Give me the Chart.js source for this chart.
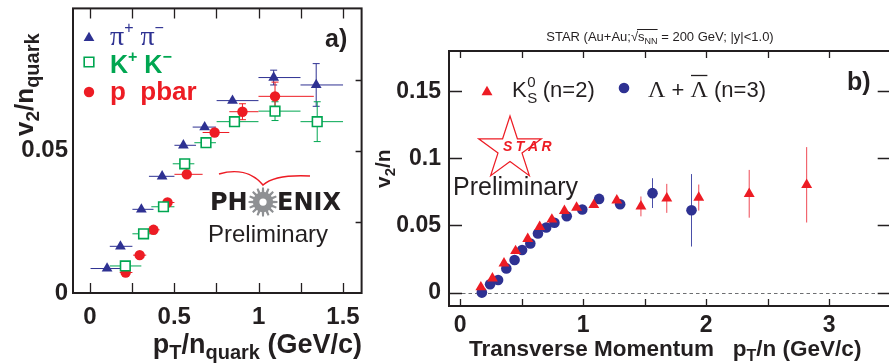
<!DOCTYPE html>
<html>
<head>
<meta charset="utf-8">
<script src="https://cdn.jsdelivr.net/npm/chart.js@4.4.1/dist/chart.umd.min.js"></script>
<style>
  html, body { margin: 0; padding: 0; background: #fff; overflow: hidden; width: 889px; height: 364px; }
  #wa { position: absolute; left: 0; top: 0; width: 370px; height: 364px; }
  #wb { position: absolute; left: 370px; top: 0; width: 527px; height: 364px; }
  canvas { display: block; }
</style>
</head>
<body>
<div id="wa"><canvas id="ca" width="370" height="364" style="width:370px;height:364px"></canvas></div>
<div id="wb"><canvas id="cb" width="527" height="364" style="width:527px;height:364px"></canvas></div>
<script>
// ---------- (a) PHENIX: v2 / n_quark vs pT / n_quark ----------
const PION_X    = [0.102, 0.181, 0.305, 0.428, 0.554, 0.680, 0.845, 1.089, 1.341];
const PION_Y    = [0.0086, 0.0164, 0.0294, 0.0410, 0.0519, 0.0583, 0.0676, 0.0757, 0.0731];
const PION_XLO  = [0.004, 0.118, 0.252, 0.350, 0.501, 0.609, 0.751, 0.999, 1.248];
const PION_XHI  = [0.200, 0.252, 0.377, 0.501, 0.629, 0.747, 0.999, 1.248, 1.500];
const PION_YERR = [0, 0, 0, 0, 0, 0, 0.0008, 0.0026, 0.0075];

const KAON_X    = [0.210, 0.318, 0.436, 0.562, 0.688, 0.857, 1.097, 1.347];
const KAON_Y    = [0.0095, 0.0208, 0.0303, 0.0454, 0.0528, 0.0602, 0.0639, 0.0602];
const KAON_XLO  = [0.118, 0.252, 0.364, 0.491, 0.619, 0.751, 0.999, 1.248];
const KAON_XHI  = [0.305, 0.393, 0.501, 0.619, 0.747, 0.999, 1.248, 1.500];
const KAON_YERR = [0, 0, 0, 0, 0, 0.0008, 0.0033, 0.0070];

const PROT_X    = [0.212, 0.295, 0.377, 0.460, 0.574, 0.739, 0.904, 1.097];
const PROT_Y    = [0.0072, 0.0133, 0.0222, 0.0318, 0.0417, 0.0564, 0.0637, 0.0691];
const PROT_XLO  = [0.177, 0.256, 0.344, 0.423, 0.501, 0.668, 0.826, 0.999];
const PROT_XHI  = [0.252, 0.334, 0.413, 0.501, 0.668, 0.826, 0.999, 1.327];
const PROT_YERR = [0, 0, 0, 0, 0, 0.0010, 0.0028, 0.0050];

const A_X_TICKS  = [0, 0.5, 1, 1.5];
const A_X_LABELS = ['0', '0.5', '1', '1.5'];
const A_X_MARKS  = [0, 0.25, 0.5, 0.75, 1, 1.25, 1.5];
const A_Y_TICKS  = [0, 0.05];
const A_Y_LABELS = ['0', '0.05'];
const A_Y_MARKS  = [0.025, 0.05, 0.075];

// ---------- (b) STAR: v2 / n vs pT / n ----------
const K0S_X    = [0.169, 0.263, 0.357, 0.451, 0.550, 0.647, 0.746, 0.848, 0.947, 1.087, 1.274, 1.470, 1.680, 1.940, 2.350, 2.817];
const K0S_Y    = [0.0040, 0.0106, 0.0218, 0.0310, 0.0400, 0.0490, 0.0545, 0.0609, 0.0634, 0.0653, 0.0688, 0.0642, 0.0702, 0.0708, 0.0736, 0.0803];
const K0S_YERR = [0.001, 0.001, 0.001, 0.001, 0.001, 0.001, 0.001, 0.0012, 0.0015, 0.002, 0.003, 0.0074, 0.0108, 0.0097, 0.0178, 0.0281];

const LAM_X    = [0.177, 0.244, 0.309, 0.376, 0.443, 0.504, 0.571, 0.633, 0.700, 0.767, 0.867, 0.993, 1.130, 1.301, 1.564, 1.881];
const LAM_Y    = [0.0000, 0.0062, 0.0094, 0.0180, 0.0243, 0.0317, 0.0366, 0.0440, 0.0485, 0.0520, 0.0569, 0.0619, 0.0698, 0.0658, 0.0741, 0.0613];
const LAM_YERR = [0.001, 0.001, 0.001, 0.001, 0.001, 0.001, 0.001, 0.001, 0.001, 0.0012, 0.0015, 0.002, 0.0025, 0.003, 0.0111, 0.0270];

const B_X_TICKS  = [0, 1, 2, 3];
const B_X_LABELS = ['0', '1', '2', '3'];
const B_X_MARKS  = [0, 0.5, 1, 1.5, 2, 2.5, 3];
const B_Y_TICKS  = [0, 0.05, 0.1, 0.15];
const B_Y_LABELS = ['0', '0.05', '0.1', '0.15'];
const B_Y_MARKS  = [0, 0.05, 0.1, 0.15];

// ---------- styling ----------
const INK = '#231f20';
const BLUE = '#2e3192', GREEN = '#00a651', RED = '#ed1c24';
const SANS = '"Liberation Sans", Arial, sans-serif';
const SERIF = '"Liberation Serif", "Times New Roman", serif';
const DJV = '"DejaVu Sans", sans-serif';

const pts = (xs, ys) => xs.map((x, i) => ({ x, y: ys[i] }));

// draws a run of text pieces [text, font, dy, color]; returns the x start of each piece and the end
function rich(ctx, x, y, parts, align) {
  let w = 0;
  parts.forEach(p => { ctx.font = p[1]; w += ctx.measureText(p[0]).width; });
  let cx = align === 'right' ? x - w : align === 'center' ? x - w / 2 : x;
  const pos = [];
  ctx.textAlign = 'left';
  ctx.textBaseline = 'alphabetic';
  parts.forEach(p => {
    ctx.font = p[1];
    ctx.fillStyle = p[3] || INK;
    ctx.fillText(p[0], cx, y + (p[2] || 0));
    pos.push(cx);
    cx += ctx.measureText(p[0]).width;
  });
  pos.push(cx);
  return pos;
}

function marker(ctx, style, x, y, r, fill, stroke, lw) {
  ctx.save();
  ctx.beginPath();
  if (style === 'triangle') {
    for (let k = 0; k < 3; k++) {
      const a = k * 2 * Math.PI / 3;
      const px = x + Math.sin(a) * r, py = y - Math.cos(a) * r;
      k ? ctx.lineTo(px, py) : ctx.moveTo(px, py);
    }
    ctx.closePath();
  } else if (style === 'rect') {
    const s = Math.SQRT1_2 * r;
    ctx.rect(x - s, y - s, 2 * s, 2 * s);
  } else {
    ctx.arc(x, y, r, 0, 2 * Math.PI);
  }
  ctx.fillStyle = fill; ctx.fill();
  if (stroke) { ctx.strokeStyle = stroke; ctx.lineWidth = lw; ctx.stroke(); }
  ctx.restore();
}

// error bars from the dataset's own arrays, placed through the chart scales
const errorBars = {
  id: 'errorBars',
  beforeDatasetsDraw(chart) {
    const { ctx, scales: { x, y } } = chart;
    chart.data.datasets.forEach(ds => {
      ctx.save();
      ctx.strokeStyle = ds.errColor;
      ctx.lineWidth = ds.errWidth || 1;
      ctx.beginPath();
      ds.data.forEach((p, j) => {
        const px = x.getPixelForValue(p.x), py = y.getPixelForValue(p.y);
        if (ds.xLo) {
          ctx.moveTo(x.getPixelForValue(ds.xLo[j]), py);
          ctx.lineTo(x.getPixelForValue(ds.xHi[j]), py);
        }
        const e = ds.yErr ? ds.yErr[j] : 0;
        if (e > 0) {
          const t = y.getPixelForValue(p.y + e), b = y.getPixelForValue(p.y - e);
          ctx.moveTo(px, t); ctx.lineTo(px, b);
          if (ds.cap && (b - t) > 8) {
            ctx.moveTo(px - ds.cap, t); ctx.lineTo(px + ds.cap, t);
            ctx.moveTo(px - ds.cap, b); ctx.lineTo(px + ds.cap, b);
          }
        }
      });
      ctx.stroke();
      ctx.restore();
    });
  }
};

// box frame with inward ticks
function framePlugin(cfg) {
  return {
    id: 'frame',
    beforeDatasetsDraw(chart) {
      if (!cfg.zeroLine) return;
      const { ctx, chartArea: a, scales: { y } } = chart;
      const py = Math.round(y.getPixelForValue(0)) + 0.5;
      ctx.save();
      ctx.strokeStyle = '#6d6e71';
      ctx.lineWidth = 1;
      ctx.setLineDash([3.5, 3]);
      ctx.beginPath(); ctx.moveTo(a.left, py); ctx.lineTo(a.right, py); ctx.stroke();
      ctx.restore();
    },
    afterDraw(chart) {
      const { ctx, chartArea: a, scales: { x, y } } = chart;
      ctx.save();
      ctx.strokeStyle = INK;
      ctx.lineWidth = 1.3;
      ctx.beginPath();
      cfg.xMarks.forEach(v => {
        const px = Math.round(x.getPixelForValue(v)) + 0.5;
        ctx.moveTo(px, a.bottom); ctx.lineTo(px, a.bottom - cfg.xLen);
        ctx.moveTo(px, a.top); ctx.lineTo(px, a.top + cfg.xLen);
      });
      cfg.yMarks.forEach(v => {
        const py = Math.round(y.getPixelForValue(v)) + 0.5;
        if (cfg.yLenL) { ctx.moveTo(a.left, py); ctx.lineTo(a.left + cfg.yLenL, py); }
        if (cfg.yLenR) { ctx.moveTo(a.right, py); ctx.lineTo(a.right - cfg.yLenR, py); }
      });
      ctx.stroke();
      ctx.lineWidth = 2;
      ctx.strokeRect(a.left, a.top, a.right - a.left, a.bottom - a.top);
      ctx.restore();
    }
  };
}

// linear axis with fixed tick values and a fixed thickness (no label overhang padding)
function axisScale(min, max, tickVals, tickLabels, size, pad, thickness) {
  return {
    type: 'linear', min, max,
    grid: { display: false, drawTicks: false },
    border: { display: false },
    afterBuildTicks: s => { s.ticks = tickVals.map(v => ({ value: v })); },
    afterFit: s => {
      if (s.isHorizontal()) { s.height = thickness; s.paddingLeft = 0; s.paddingRight = 0; }
      else { s.width = thickness; s.paddingTop = 0; s.paddingBottom = 0; }
    },
    ticks: {
      autoSkip: false, maxRotation: 0, padding: pad, color: INK,
      font: { family: SANS, size, weight: 'bold' },
      callback: (v, i) => tickLabels[i]
    }
  };
}

function gear(ctx, cx, cy, rOut, rIn, n, color) {
  const step = 2 * Math.PI / n;
  ctx.save();
  ctx.beginPath();
  for (let i = 0; i < n; i++) {
    const a = i * step;
    const seq = [[rIn, a - 0.32 * step], [rOut, a - 0.17 * step], [rOut, a + 0.17 * step], [rIn, a + 0.32 * step]];
    seq.forEach(([r, t], k) => {
      const px = cx + r * Math.cos(t), py = cy + r * Math.sin(t);
      (i === 0 && k === 0) ? ctx.moveTo(px, py) : ctx.lineTo(px, py);
    });
  }
  ctx.closePath();
  ctx.fillStyle = color; ctx.fill();
  ctx.beginPath(); ctx.arc(cx, cy, rOut * 0.25, 0, 2 * Math.PI);
  ctx.fillStyle = '#fff'; ctx.fill();
  ctx.restore();
}

// ---------- annotations for (a) ----------
const annotateA = {
  id: 'annotateA',
  afterDraw(chart) {
    const ctx = chart.ctx;
    ctx.save();
    // legend
    marker(ctx, 'triangle', 89, 38, 6.2, BLUE);
    rich(ctx, 110, 45, [
      ['\u03c0', '28px ' + SERIF, 0, BLUE], ['+', '16px ' + SANS, -12, BLUE],
      [' \u03c0', '28px ' + SERIF, 0, BLUE], ['\u2212', '16px ' + SANS, -12, BLUE]
    ]);
    marker(ctx, 'rect', 89, 62, 6.8, '#fff', GREEN, 1.6);
    rich(ctx, 110, 73, [
      ['K', 'bold 25px ' + SANS, 0, GREEN], ['+', 'bold 16px ' + SANS, -11, GREEN],
      [' K', 'bold 25px ' + SANS, 0, GREEN], ['\u2212', 'bold 16px ' + SANS, -11, GREEN]
    ]);
    marker(ctx, 'circle', 89, 92, 5.2, RED);
    rich(ctx, 110, 100, [['p  pbar', 'bold 26px ' + SANS, 0, RED]]);
    // panel tag
    rich(ctx, 325, 47, [['a)', 'bold 25px ' + SANS, 0, INK]]);
    // PHENIX badge
    ctx.strokeStyle = RED; ctx.lineWidth = 1.6;
    ctx.beginPath();
    ctx.moveTo(219, 174);
    ctx.bezierCurveTo(236, 169, 252, 172, 263, 185);
    ctx.bezierCurveTo(272, 177, 290, 175, 310, 176);
    ctx.stroke();
    rich(ctx, 210, 210, [['PH', 'bold 24px ' + DJV, 0, INK]]);
    gear(ctx, 263, 202, 14.5, 10, 16, '#8e9093');
    rich(ctx, 277, 210, [['ENIX', 'bold 24px ' + DJV, 0, INK]]);
    rich(ctx, 208, 242, [['Preliminary', '24px ' + SANS, 0, INK]]);
    // axis titles
    rich(ctx, 362, 353, [
      ['p', 'bold 27px ' + SANS], ['T', 'bold 20px ' + SANS, 6], ['/n', 'bold 27px ' + SANS],
      ['quark', 'bold 20px ' + SANS, 6], [' (GeV/c)', 'bold 27px ' + SANS]
    ], 'right');
    ctx.translate(33, 136);
    ctx.rotate(-Math.PI / 2);
    rich(ctx, 0, 0, [
      ['v', 'bold 26px ' + SANS], ['2', 'bold 19px ' + SANS, 6], ['/n', 'bold 26px ' + SANS],
      ['quark', 'bold 20px ' + SANS, 6]
    ]);
    ctx.restore();
  }
};

// ---------- annotations for (b) ----------
const annotateB = {
  id: 'annotateB',
  afterDraw(chart) {
    const ctx = chart.ctx;
    const o = -370; // canvas (b) starts 370px into the page
    ctx.save();
    ctx.translate(o, 0);
    // title line
    const tp = rich(ctx, 660, 41, [
      ['STAR (Au+Au;', '13px ' + SANS], ['\u221a', '13px ' + SANS], ['s', '13px ' + SANS],
      ['NN', '9px ' + SANS, 3], [' = 200 GeV; |y|<1.0)', '13px ' + SANS]
    ], 'center');
    ctx.strokeStyle = INK; ctx.lineWidth = 1;
    ctx.beginPath(); ctx.moveTo(tp[2] - 1, 29.5); ctx.lineTo(tp[4], 29.5); ctx.stroke();
    // legend
    marker(ctx, 'triangle', 487, 92, 6.3, RED);
    const kp = rich(ctx, 512, 97, [['K', '22px ' + SANS]]);
    rich(ctx, kp[1] + 0.5, 97, [['0', '15px ' + SANS, -10]]);
    rich(ctx, kp[1] + 0.5, 97, [['S', '15px ' + SANS, 6]]);
    rich(ctx, kp[1] + 10, 97, [[' (n=2)', '22px ' + SANS]]);
    marker(ctx, 'circle', 624, 88, 5.3, BLUE);
    const lp = rich(ctx, 648, 97, [
      ['\u039b', '24px ' + SERIF], [' + ', '22px ' + SANS], ['\u039b', '24px ' + SERIF], [' (n=3)', '22px ' + SANS]
    ]);
    ctx.strokeStyle = INK; ctx.lineWidth = 1.3;
    ctx.beginPath(); ctx.moveTo(lp[2] + 0.5, 75.5); ctx.lineTo(lp[3] - 0.5, 75.5); ctx.stroke();
    // panel tag
    rich(ctx, 847, 90, [['b)', 'bold 25px ' + SANS]]);
    // STAR badge
    const scx = 510, scy = 149, R = 33, r = R * 0.382;
    ctx.beginPath();
    for (let k = 0; k < 10; k++) {
      const rr = k % 2 ? r : R, t = k * Math.PI / 5;
      const px = scx + rr * Math.sin(t), py = scy - rr * Math.cos(t);
      k ? ctx.lineTo(px, py) : ctx.moveTo(px, py);
    }
    ctx.closePath();
    ctx.strokeStyle = RED; ctx.lineWidth = 1.2; ctx.stroke();
    ctx.font = 'italic bold 14px ' + SANS;
    ctx.fillStyle = RED;
    let sx = 503;
    ['S', 'T', 'A', 'R'].forEach(ch => { ctx.fillText(ch, sx, 151); sx += ctx.measureText(ch).width + 3.5; });
    rich(ctx, 453, 195, [['Preliminary', '25px ' + SANS]]);
    // axis titles
    rich(ctx, 469, 356, [
      ['Transverse Momentum   p', 'bold 22.5px ' + SANS], ['T', 'bold 16px ' + SANS, 5],
      ['/n (GeV/c)', 'bold 22.5px ' + SANS]
    ]);
    ctx.translate(390, 188);
    ctx.rotate(-Math.PI / 2);
    rich(ctx, 0, 0, [['v', 'bold 21px ' + SANS], ['2', 'bold 15px ' + SANS, 5], ['/n', 'bold 21px ' + SANS]]);
    ctx.restore();
  }
};

// ---------- chart (a) ----------
new Chart(document.getElementById('ca'), {
  type: 'scatter',
  data: {
    datasets: [
      { label: 'pi+ pi-', data: pts(PION_X, PION_Y), xLo: PION_XLO, xHi: PION_XHI, yErr: PION_YERR,
        errColor: BLUE, cap: 3.5, pointStyle: 'triangle', pointRadius: 6.2,
        backgroundColor: BLUE, borderColor: BLUE, borderWidth: 0 },
      { label: 'K+ K-', data: pts(KAON_X, KAON_Y), xLo: KAON_XLO, xHi: KAON_XHI, yErr: KAON_YERR,
        errColor: GREEN, cap: 3.5, pointStyle: 'rect', pointRadius: 6.8,
        backgroundColor: '#fff', borderColor: GREEN, borderWidth: 1.6 },
      { label: 'p pbar', data: pts(PROT_X, PROT_Y), xLo: PROT_XLO, xHi: PROT_XHI, yErr: PROT_YERR,
        errColor: RED, cap: 3.5, pointStyle: 'circle', pointRadius: 5.2,
        backgroundColor: RED, borderColor: RED, borderWidth: 0 }
    ]
  },
  options: {
    responsive: false, animation: false, events: [],
    layout: { padding: { left: 0, right: 8, top: 5, bottom: 0 } },
    plugins: { legend: { display: false }, tooltip: { enabled: false } },
    scales: {
      x: axisScale(-0.1, 1.61, A_X_TICKS, A_X_LABELS, 24, 10, 71),
      y: axisScale(0, 0.1, A_Y_TICKS, A_Y_LABELS, 24, 5, 73)
    }
  },
  plugins: [errorBars, framePlugin({ xMarks: A_X_MARKS, yMarks: A_Y_MARKS, xLen: 10, yLenL: 0, yLenR: 6 }), annotateA]
});

// ---------- chart (b) ----------
new Chart(document.getElementById('cb'), {
  type: 'scatter',
  data: {
    datasets: [
      { label: 'K0S (n=2)', data: pts(K0S_X, K0S_Y), yErr: K0S_YERR,
        errColor: '#ef4a55', pointStyle: 'triangle', pointRadius: 6.3,
        backgroundColor: RED, borderColor: RED, borderWidth: 0 },
      { label: 'Lambda + anti-Lambda (n=3)', data: pts(LAM_X, LAM_Y), yErr: LAM_YERR,
        errColor: '#4a4fa8', pointStyle: 'circle', pointRadius: 5.3,
        backgroundColor: BLUE, borderColor: BLUE, borderWidth: 0 }
    ]
  },
  options: {
    responsive: false, animation: false, events: [],
    layout: { padding: { left: 0, right: 2, top: 51, bottom: 0 } },
    plugins: { legend: { display: false }, tooltip: { enabled: false } },
    scales: {
      x: axisScale(-0.09, 3.5, B_X_TICKS, B_X_LABELS, 23, 6, 58),
      y: axisScale(-0.01, 0.18, B_Y_TICKS, B_Y_LABELS, 23, 8, 79)
    }
  },
  plugins: [errorBars, framePlugin({ xMarks: B_X_MARKS, yMarks: B_Y_MARKS, xLen: 7, yLenL: 13, yLenR: 13, zeroLine: true }), annotateB]
});
</script>
</body>
</html>
